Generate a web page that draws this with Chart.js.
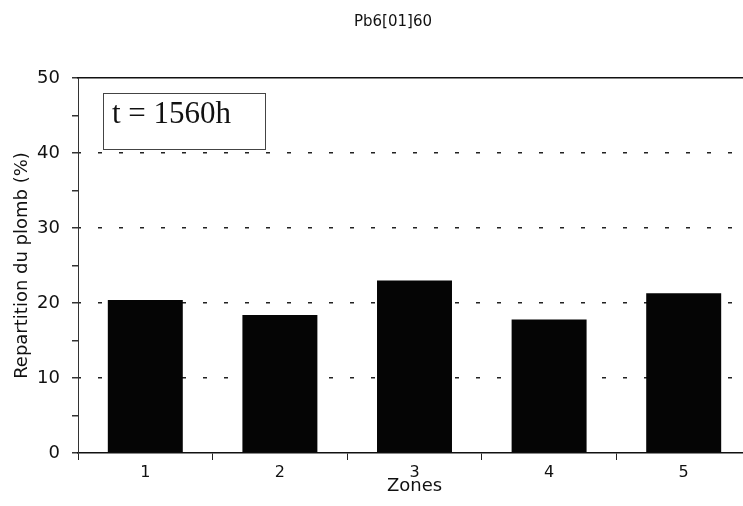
<!DOCTYPE html>
<html lang="fr">
<head>
<meta charset="UTF-8">
<title>Pb6[01]60</title>
<script src="https://cdn.jsdelivr.net/npm/chart.js@4.4.0/dist/chart.umd.min.js"></script>
<style>
  html, body { margin: 0; padding: 0; background: #fff; overflow: hidden; }
  .chart-box { position: relative; width: 751px; height: 506px; }
</style>
</head>
<body>
<div class="chart-box"><canvas id="plombChart"></canvas></div>
<script>
// valeurs
const zones = ['1', '2', '3', '4', '5'];
const repartition = [20.4, 18.4, 23.0, 17.8, 21.3];
const yLabels = [0, 10, 20, 30, 40, 50];
const chartTitle = 'Pb6[01]60';
const boxLabel = 't = 1560h';

const ink = '#111';

// titre + cadre "t = 1560h"
const annotations = {
  id: 'annotations',
  afterDraw(chart) {
    const { ctx, chartArea: a } = chart;
    ctx.save();
    ctx.fillStyle = ink;
    ctx.font = '15px "DejaVu Sans"';
    ctx.textAlign = 'center';
    ctx.textBaseline = 'middle';
    ctx.fillText(chartTitle, a.left + 315, 22);

    ctx.strokeStyle = '#444';
    ctx.lineWidth = 1;
    ctx.strokeRect(a.left + 25.5, a.top + 15.5, 162, 56);
    ctx.font = '31px "Liberation Serif"';
    ctx.textAlign = 'left';
    ctx.textBaseline = 'alphabetic';
    ctx.fillText(boxLabel, a.left + 34, a.top + 45);
    ctx.restore();
  }
};

new Chart(document.getElementById('plombChart'), {
  type: 'bar',
  data: {
    labels: zones,
    datasets: [{
      data: repartition,
      backgroundColor: '#050505',
      borderWidth: 0,
      categoryPercentage: 1,
      barPercentage: 0.557
    }]
  },
  options: {
    responsive: true,
    maintainAspectRatio: false,
    animation: false,
    layout: { padding: { top: 78, left: 0, right: 0, bottom: 0 } },
    plugins: {
      legend: { display: false },
      title: { display: false },
      tooltip: { enabled: false }
    },
    scales: {
      x: {
        type: 'category',
        offset: true,
        grid: {
          offset: true,
          drawOnChartArea: false,
          drawTicks: true,
          tickLength: 7,
          tickColor: '#222'
        },
        border: { display: true, color: ink, width: 1.5 },
        ticks: {
          color: ink,
          padding: 3,
          font: { family: 'DejaVu Sans', size: 16 }
        },
        title: {
          display: true,
          text: 'Zones',
          color: ink,
          font: { family: 'DejaVu Sans', size: 18 },
          padding: { top: 0, bottom: 9 }
        },
        afterFit(scale) { scale.height = 53; }
      },
      x2: {
        type: 'category',
        position: 'top',
        labels: zones,
        offset: true,
        grid: { display: false, drawTicks: false },
        ticks: { display: false },
        border: { display: true, color: ink, width: 1.5 },
        afterFit(scale) { scale.height = 0; }
      },
      y: {
        min: 0,
        max: 50,
        ticks: {
          stepSize: 5,
          color: ink,
          padding: 12,
          font: { family: 'DejaVu Sans', size: 18 },
          callback: v => yLabels.includes(v) ? v : ''
        },
        grid: {
          lineWidth: 1.5,
          color: c => (c.tick && c.tick.value % 10 === 0 && c.tick.value > 0 && c.tick.value < 50) ? '#222' : 'rgba(0,0,0,0)',
          tickColor: '#333',
          tickLength: 6
        },
        border: { display: true, color: '#333', width: 1, dash: [4, 17], dashOffset: 2 },
        title: {
          display: true,
          text: 'Repartition du plomb (%)',
          color: ink,
          font: { family: 'DejaVu Sans', size: 18 },
          padding: { top: 12, bottom: 0 }
        },
        afterFit(scale) { scale.width = 78; }
      }
    }
  },
  plugins: [annotations]
});
</script>
</body>
</html>
